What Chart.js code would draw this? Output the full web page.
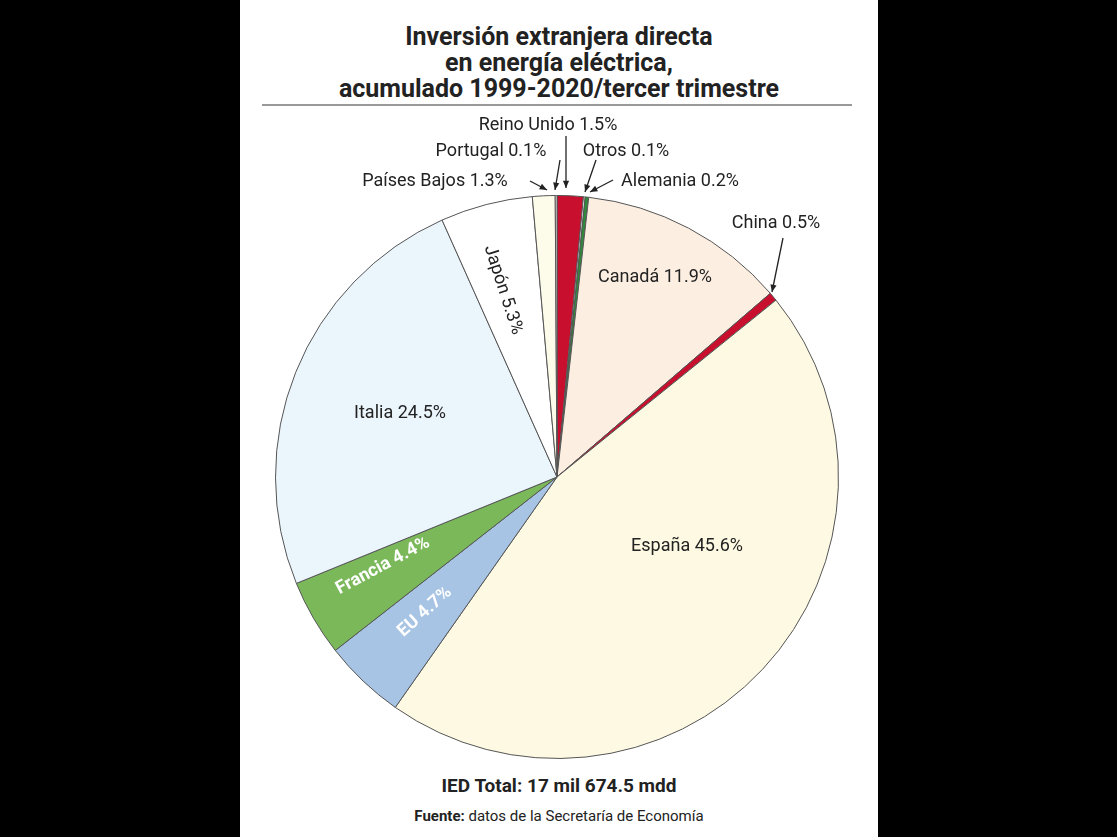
<!DOCTYPE html>
<html><head><meta charset="utf-8">
<script src="https://cdn.jsdelivr.net/npm/chart.js@4/dist/chart.umd.min.js"></script>
<style>
body{margin:0;background:#000;width:1117px;height:837px;overflow:hidden;font-family:Roboto,"Open Sans",sans-serif}
#panel{position:absolute;left:240px;top:0;width:638px;height:837px;background:#fff}
#title{position:absolute;left:240px;width:638px;top:24px;text-align:center;font-weight:bold;font-size:25px;line-height:26px;color:#222}
#rule{position:absolute;left:262px;width:590px;top:104px;height:2px;background:#999}
#total{position:absolute;left:240px;width:638px;top:774px;text-align:center;font-weight:bold;font-size:19px;color:#222}
#src{position:absolute;left:240px;width:638px;top:807px;text-align:center;font-size:15px;color:#222}
canvas{position:absolute;left:0;top:0}
</style></head><body>
<div id="panel"></div>
<div id="title">Inversión extranjera directa<br>en energía eléctrica,<br>acumulado 1999-2020/tercer trimestre</div>
<div id="rule"></div>
<div id="total">IED Total: 17 mil 674.5 mdd</div>
<div id="src"><b>Fuente:</b> datos de la Secretaría de Economía</div>
<canvas id="c" width="1117" height="837"></canvas>
<script>
const categories=["Reino Unido","Otros","Alemania","Canadá","China","España","EU","Francia","Italia","Japón","Países Bajos","Portugal"];
const shares=[1.5,0.1,0.2,11.9,0.5,45.6,4.7,4.4,24.5,5.3,1.3,0.1];
const colors=["#c8102e","#ffffff","#2e8b3a","#fcefe2","#c8102e","#fdf9e3","#a7c4e4","#7ab85a","#ebf5fc","#ffffff","#fdfbe9","#ffffff"];
const lbl=i=>categories[i]+" "+shares[i].toFixed(1)+"%";
const labelPlugin={id:"labels",afterDraw(ch){
 const c=ch.ctx;c.save();c.fillStyle="#222";c.font="18px Roboto";c.textBaseline="middle";
 const t=(s,x,y,a,col,al)=>{c.save();c.translate(x,y);c.rotate((a||0)*Math.PI/180);c.fillStyle=col||"#222";c.textAlign=al||"center";c.fillText(s,0,0);c.restore();};
 const arr=(x1,y1,x2,y2)=>{c.strokeStyle="#222";c.lineWidth=1.3;c.beginPath();c.moveTo(x1,y1);c.lineTo(x2,y2);c.stroke();
  const a=Math.atan2(y2-y1,x2-x1);c.fillStyle="#222";c.beginPath();c.moveTo(x2,y2);c.lineTo(x2-8*Math.cos(a-0.4),y2-8*Math.sin(a-0.4));c.lineTo(x2-8*Math.cos(a+0.4),y2-8*Math.sin(a+0.4));c.closePath();c.fill();};
 t(lbl(3),655,277);t(lbl(5),687,546);t(lbl(8),400,413);
 t(lbl(9),503,290,72);
 c.font="bold 18px Roboto";t(lbl(7),383,566,-28,"#fff");t(lbl(6),425,612,-42,"#fff");c.font="18px Roboto";
 t(lbl(0),548,125);t(lbl(11),491,151);t(lbl(1),626,151);t(lbl(10),435,181);t(lbl(2),680,181);t(lbl(4),776,223);
 arr(566,136,566,188);arr(530,181,547,190);arr(560,160,555,190);arr(596,160,585,192);arr(613,180,590,192);arr(783,238,772,292);
 c.restore();}};
new Chart(document.getElementById("c"),{type:"pie",
 data:{labels:categories,datasets:[{data:shares,backgroundColor:colors,borderColor:"#555",borderWidth:1}]},
 options:{responsive:false,animation:false,layout:{padding:{left:275,right:278,top:195,bottom:78}},
  plugins:{legend:{display:false},tooltip:{enabled:false}}},
 plugins:[labelPlugin]});
</script></body></html>
